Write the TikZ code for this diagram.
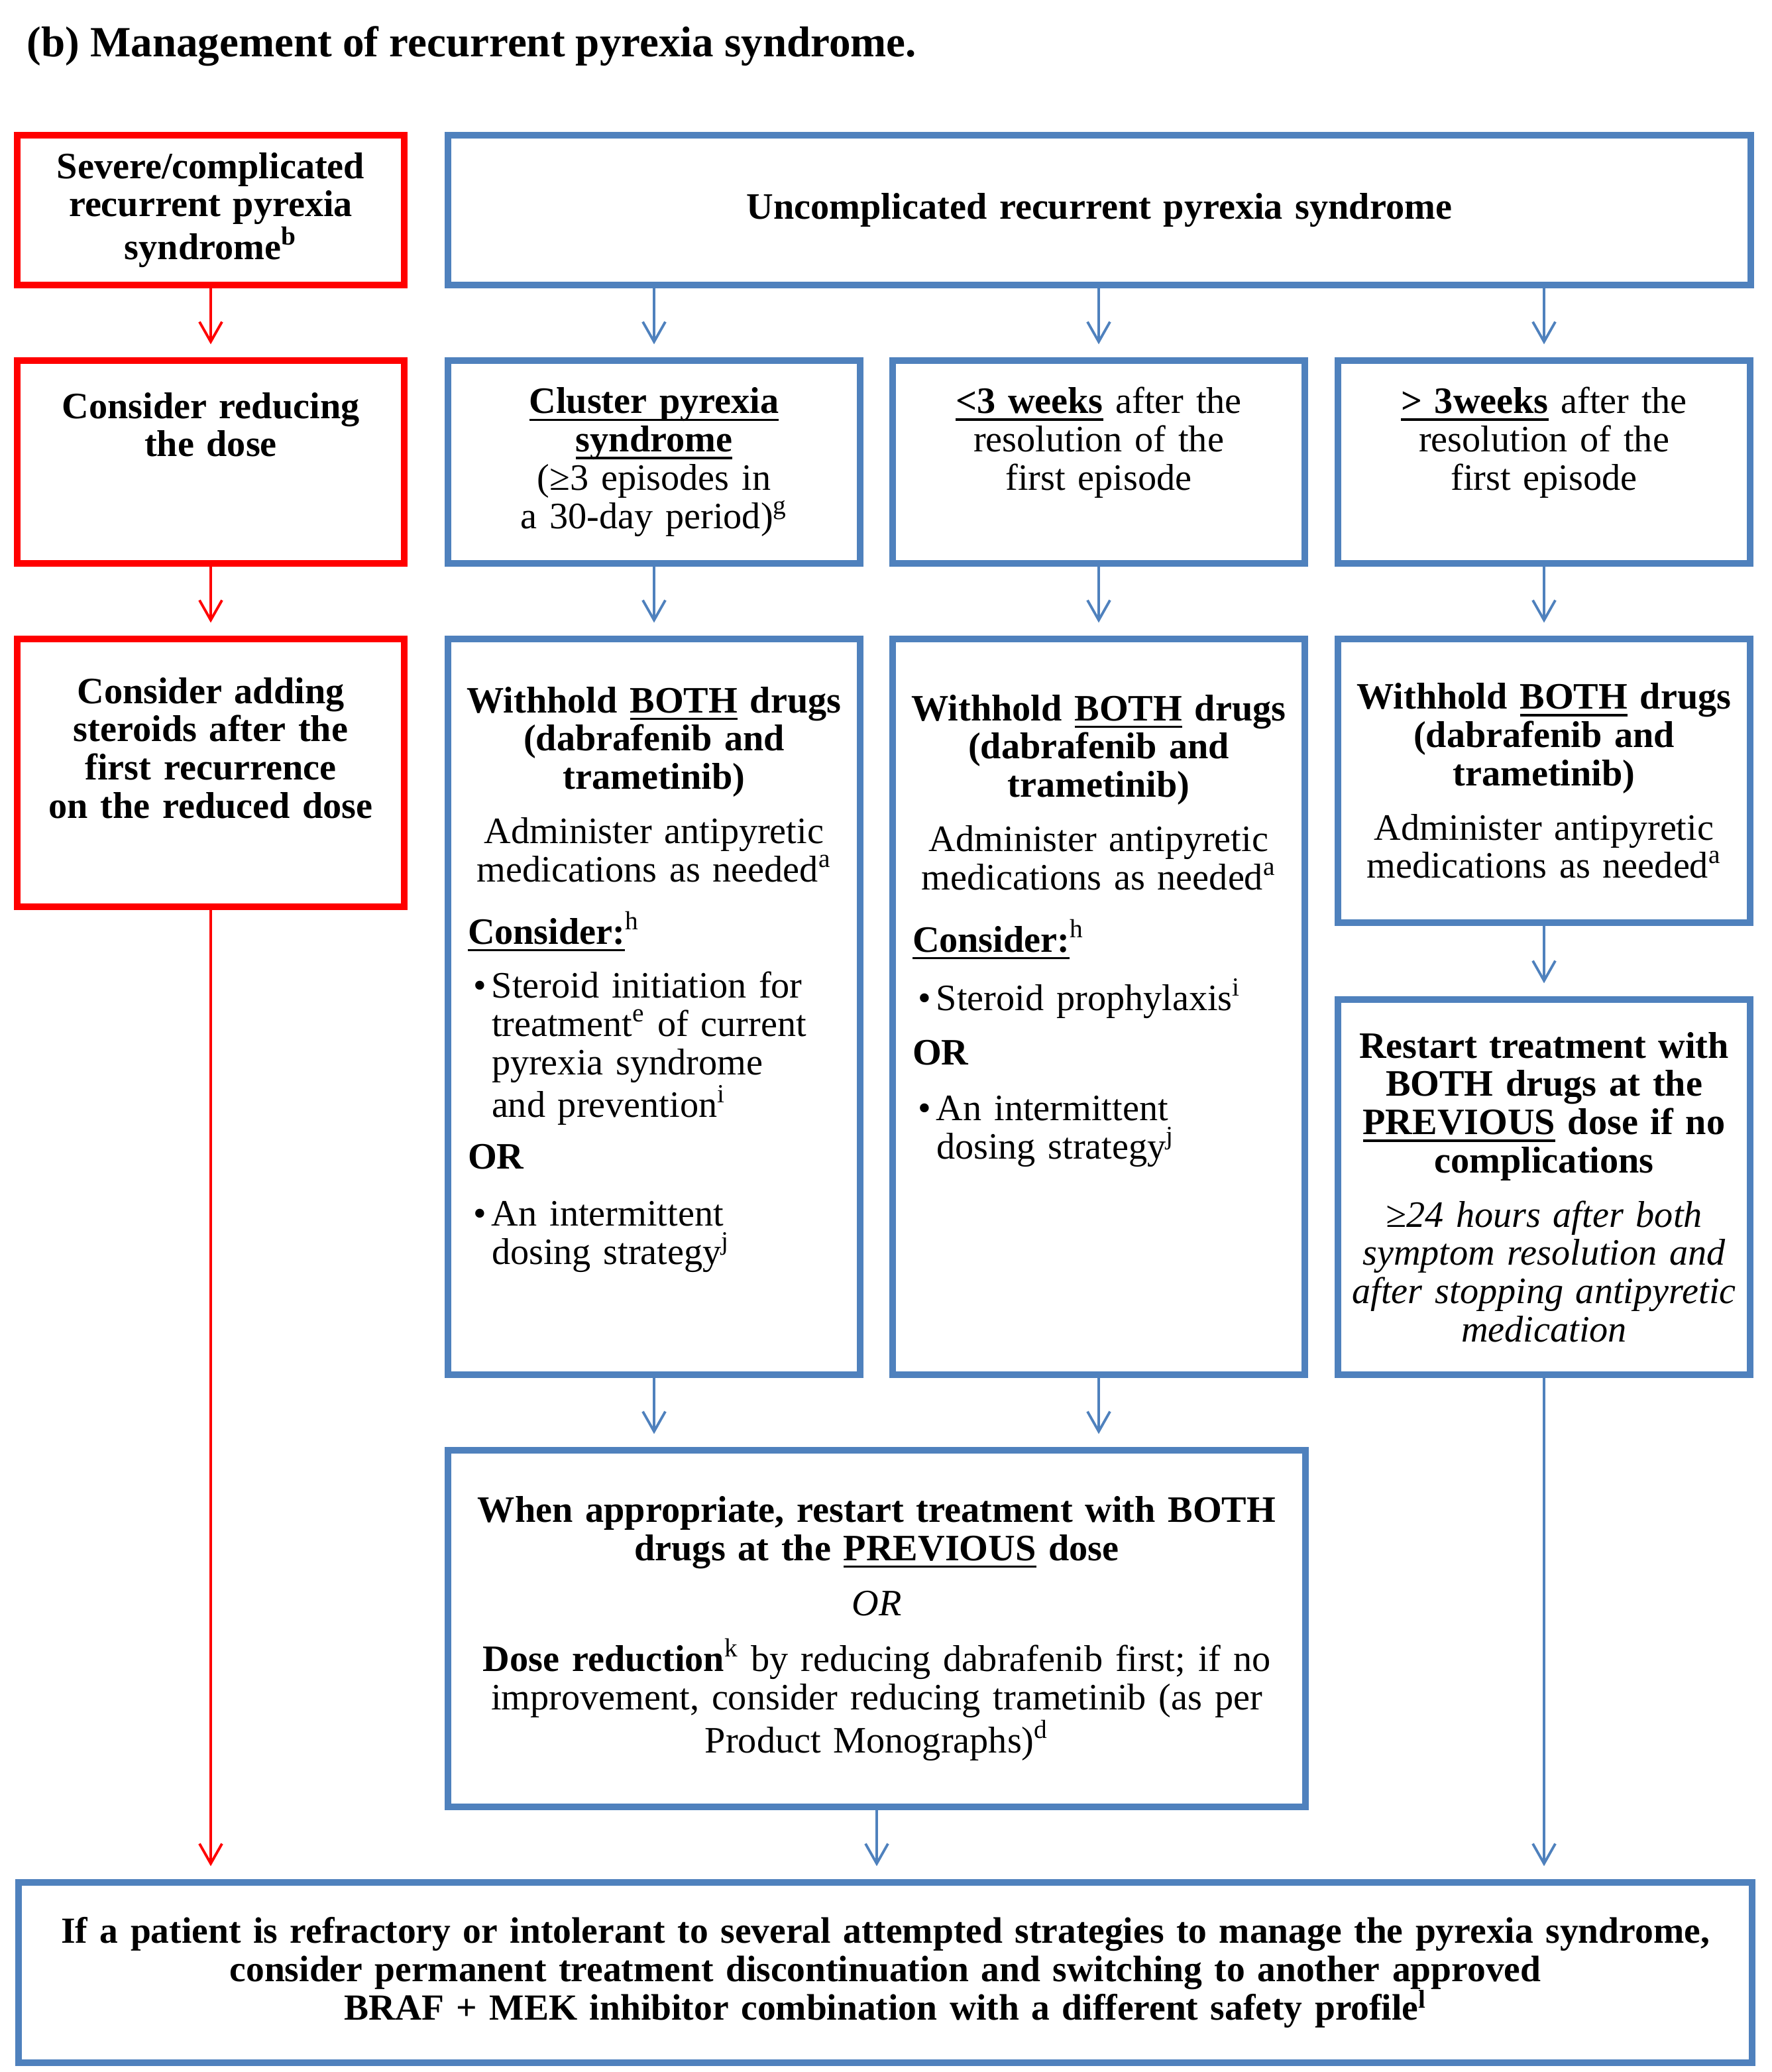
\documentclass[tikz,border=0pt]{standalone}
\usepackage{fontspec}
\setmainfont{Liberation Serif}
\usetikzlibrary{arrows.meta}

\definecolor{boxred}{HTML}{FF0000}
\definecolor{boxblue}{HTML}{4F81BD}

\setlength{\parindent}{0pt}

\newlength{\undlwd}
\newcommand{\undl}[1]{\leavevmode\settowidth{\undlwd}{#1}\rlap{\rule[-3.2pt]{\undlwd}{1.0pt}}#1}
\newcommand{\boxfont}{\fontsize{16}{16.44}\selectfont}
\newcommand{\bul}[1]{\par\noindent\hspace*{0.22cm}\makebox[0.28cm][l]{\textbullet}\parbox[t]{5.2cm}{\raggedright #1}\par}
\newcommand{\lft}{\hspace*{0.14cm}}

\begin{document}
\begin{tikzpicture}[
    font=\boxfont,
    redbox/.style={rectangle, draw=boxred, line width=2.6pt, inner sep=0, minimum width=5.84cm, text width=5.6cm, align=center},
    bluebox/.style={rectangle, draw=boxblue, line width=2.6pt, inner sep=0, minimum width=6.22cm, text width=5.9cm, align=center},
    boxtext/.style={inner sep=0, anchor=north, text width=5.9cm},
    redarrow/.style={draw=boxred, line width=1.1pt, -{Straight Barb[length=0.3cm, width=0.34cm]}, shorten >=0.2cm},
    bluearrow/.style={draw=boxblue, line width=1.1pt, -{Straight Barb[length=0.3cm, width=0.34cm]}, shorten >=0.2cm}
]
\useasboundingbox (0,0) rectangle (26.74,-31.26);

% ============================================
% TITULO
% ============================================
\node[anchor=west, inner sep=0, font=\fontsize{18.5}{20}\selectfont\bfseries] (title) at (0.40,-0.70) {(b) Management of recurrent pyrexia syndrome.};

% ============================================
% COLUMNA ROJA (severo/complicado)
% ============================================
\node[redbox, minimum height=2.26cm, font=\boxfont\bfseries] (severe) at (3.18,-3.17) {Severe/complicated\\ recurrent pyrexia\\ syndrome\textsuperscript{b}};

\node[redbox, minimum height=3.06cm] (reduce) at (3.18,-6.97) {};
\node[boxtext, align=center, font=\boxfont\bfseries] (reducetxt) at ([yshift=-0.52cm]reduce.north) {Consider reducing\\ the dose};

\node[redbox, minimum height=4.04cm] (steroids) at (3.18,-11.66) {};
\node[boxtext, align=center, font=\boxfont\bfseries] (steroidstxt) at ([yshift=-0.62cm]steroids.north) {Consider adding\\ steroids after the\\ first recurrence\\ on the reduced dose};

% ============================================
% SIN COMPLICACIONES
% ============================================
\node[bluebox, minimum width=19.66cm, text width=19cm, minimum height=2.26cm, font=\boxfont\bfseries] (uncompl) at (16.59,-3.17) {Uncomplicated recurrent pyrexia syndrome};

% Fila 2: cluster, <3 semanas, >3 semanas
\node[bluebox, minimum height=3.06cm] (cluster) at (9.87,-6.97) {\textbf{\undl{Cluster pyrexia}}\\ \textbf{\undl{syndrome}}\\ (≥3 episodes in\\ a 30-day period)\textsuperscript{g}};

\node[bluebox, minimum height=3.06cm] (early) at (16.58,-6.97) {};
\node[boxtext, align=center] (earlytxt) at ([yshift=-0.44cm]early.north) {\textbf{\undl{<3 weeks}} after the\\ resolution of the\\ first episode};

\node[bluebox, minimum height=3.06cm] (late) at (23.30,-6.97) {};
\node[boxtext, align=center] (latetxt) at ([yshift=-0.44cm]late.north) {\textbf{\undl{> 3weeks}} after the\\ resolution of the\\ first episode};

% Fila 3: suspender ambos farmacos
\node[bluebox, minimum height=11.10cm] (withholdA) at (9.87,-15.19) {};
\node[boxtext, align=left] (withholdAtxt) at ([yshift=-0.76cm]withholdA.north) {%
{\centering\bfseries Withhold \undl{BOTH} drugs\\ (dabrafenib and\\ trametinib)\par}
\vspace{0.24cm}
{\centering Administer antipyretic\\ medications as needed\textsuperscript{a}\par}
\vspace{0.36cm}
\lft\textbf{\undl{Consider:}}\textsuperscript{h}\par
\vspace{0.24cm}
\bul{Steroid initiation for\\ treatment\textsuperscript{e} of current\\ pyrexia syndrome\\ and prevention\textsuperscript{i}}
\vspace{0.26cm}
\lft\textbf{OR}\par
\vspace{0.28cm}
\bul{An intermittent\\ dosing strategy\textsuperscript{j}}};

\node[bluebox, minimum height=11.10cm] (withholdB) at (16.58,-15.19) {};
\node[boxtext, align=left] (withholdBtxt) at ([yshift=-0.88cm]withholdB.north) {%
{\centering\bfseries Withhold \undl{BOTH} drugs\\ (dabrafenib and\\ trametinib)\par}
\vspace{0.24cm}
{\centering Administer antipyretic\\ medications as needed\textsuperscript{a}\par}
\vspace{0.36cm}
\lft\textbf{\undl{Consider:}}\textsuperscript{h}\par
\vspace{0.26cm}
\bul{Steroid prophylaxis\textsuperscript{i}}
\vspace{0.24cm}
\lft\textbf{OR}\par
\vspace{0.26cm}
\bul{An intermittent\\ dosing strategy\textsuperscript{j}}};

\node[bluebox, minimum height=4.28cm] (withholdC) at (23.30,-11.78) {{\bfseries Withhold \undl{BOTH} drugs\\ (dabrafenib and\\ trametinib)\par}
\vspace{0.24cm}
Administer antipyretic\\ medications as needed\textsuperscript{a}\par\vspace{0.1cm}};

% Reinicio a la dosis previa
\node[bluebox, minimum height=5.66cm] (restart) at (23.30,-17.91) {{\bfseries Restart treatment with\\ BOTH drugs at the\\ \undl{PREVIOUS} dose if no\\ complications\par}
\vspace{0.24cm}
{\itshape ≥24 hours after both\\ symptom resolution and\\ after stopping antipyretic\\ medication\par}\vspace{0.16cm}};

% ============================================
% REINICIO O REDUCCION DE DOSIS
% ============================================
\node[bluebox, minimum width=12.94cm, text width=12.4cm, minimum height=5.38cm] (resume) at (13.23,-24.57) {{\bfseries When appropriate, restart treatment with BOTH\\ drugs at the \undl{PREVIOUS} dose\par}
\vspace{0.26cm}
\textit{OR}\par
\vspace{0.26cm}
\textbf{Dose reduction}\textsuperscript{k} by reducing dabrafenib first; if no\\ improvement, consider reducing trametinib (as per\\ Product Monographs)\textsuperscript{d}};

% ============================================
% CAJA FINAL
% ============================================
\node[bluebox, minimum width=26.16cm, text width=25.8cm, minimum height=2.72cm, font=\fontsize{15.8}{16.44}\selectfont\bfseries] (final) at (13.36,-29.76) {If a patient is refractory or intolerant to several attempted strategies to manage the pyrexia syndrome,\\ consider permanent treatment discontinuation and switching to another approved\\ BRAF + MEK inhibitor combination with a different safety profile\textsuperscript{l}\par\vspace{0.1cm}};

% ============================================
% FLECHAS
% ============================================
\draw[redarrow] (severe) -- (reduce);
\draw[redarrow] (reduce) -- (steroids);
\draw[redarrow] (steroids.south) -- (steroids.south |- final.north);

\draw[bluearrow] (uncompl.south -| cluster.north) -- (cluster.north);
\draw[bluearrow] (uncompl.south -| early.north) -- (early.north);
\draw[bluearrow] (uncompl.south -| late.north) -- (late.north);

\draw[bluearrow] (cluster) -- (withholdA);
\draw[bluearrow] (early) -- (withholdB);
\draw[bluearrow] (late) -- (withholdC);
\draw[bluearrow] (withholdC) -- (restart);

\draw[bluearrow] (withholdA.south) -- (withholdA.south |- resume.north);
\draw[bluearrow] (withholdB.south) -- (withholdB.south |- resume.north);
\draw[bluearrow] (resume.south) -- (resume.south |- final.north);
\draw[bluearrow] (restart.south) -- (restart.south |- final.north);

\end{tikzpicture}
\end{document}
